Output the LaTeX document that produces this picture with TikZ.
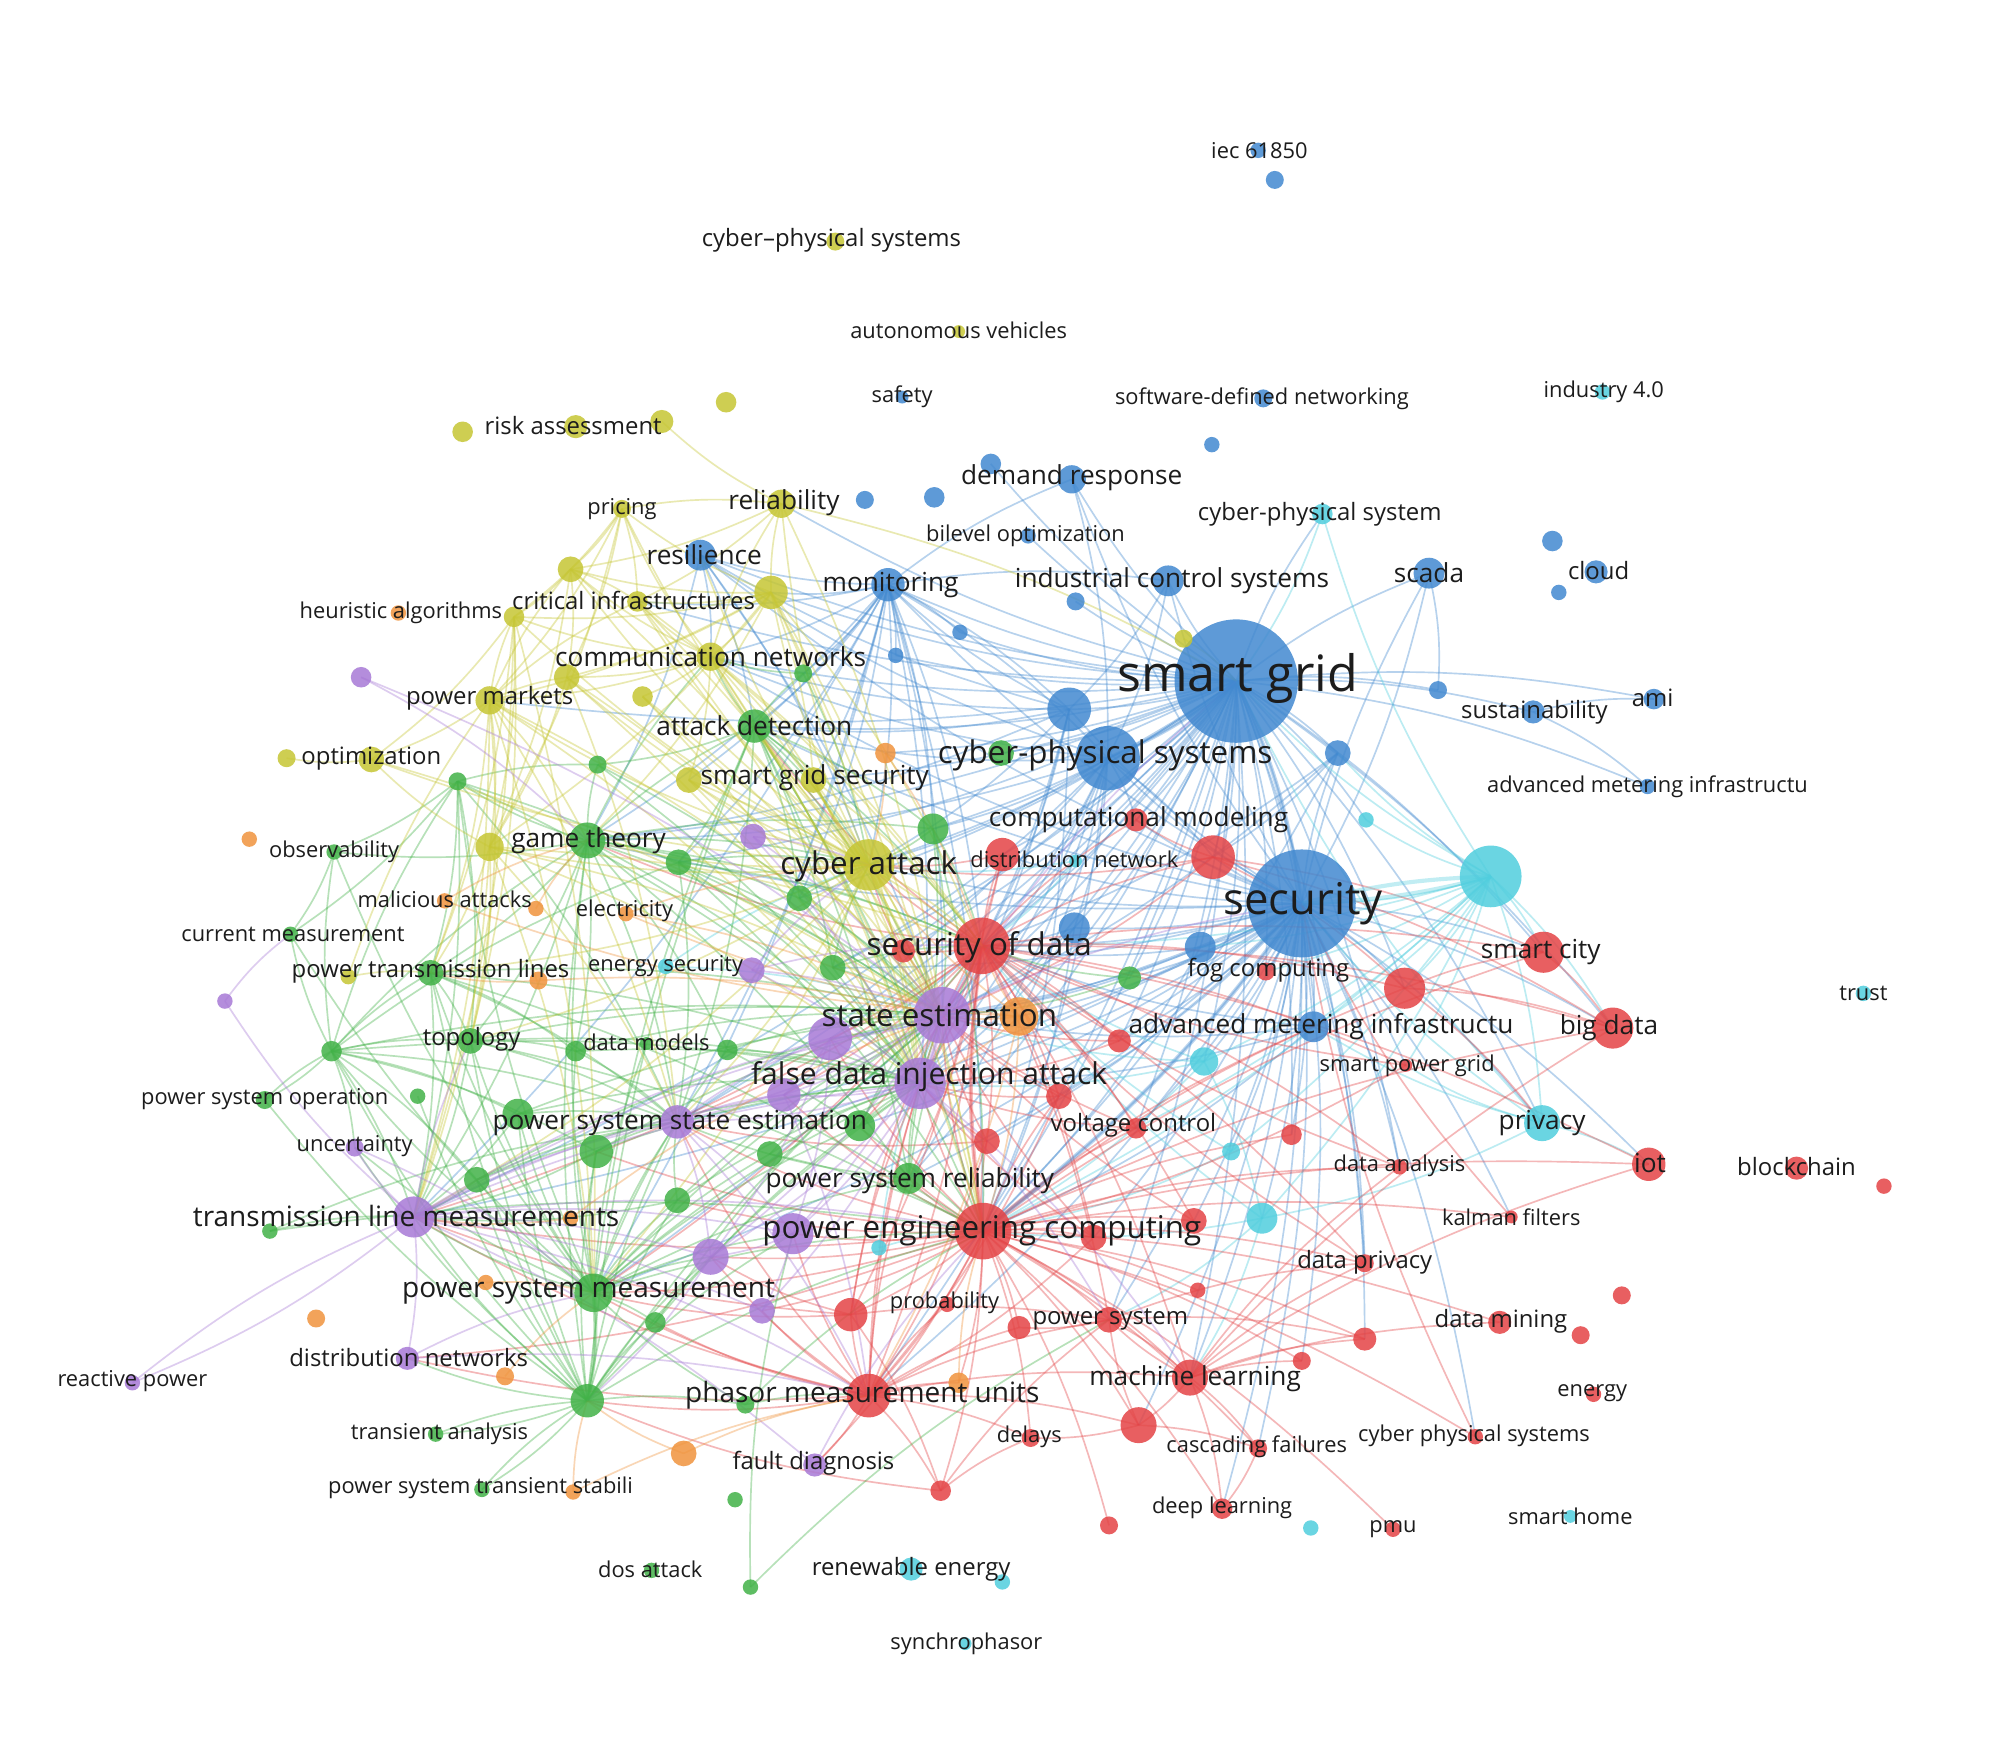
\documentclass[tikz,border=0pt]{standalone}
\usepackage{fontspec}
\setmainfont{Open Sans}
\usepackage{tikz}
\definecolor{vBlue}{RGB}{66,137,208}
\definecolor{vRed}{RGB}{228,68,70}
\definecolor{vGreen}{RGB}{66,178,72}
\definecolor{vYellow}{RGB}{198,198,52}
\definecolor{vPurple}{RGB}{168,122,214}
\definecolor{vCyan}{RGB}{80,206,222}
\definecolor{vOrange}{RGB}{240,148,62}
\definecolor{vText}{RGB}{28,28,28}
\pgfdeclarelayer{bglayer}
\pgfdeclarelayer{edgelayer}
\pgfdeclarelayer{nodelayer}
\pgfsetlayers{bglayer,edgelayer,nodelayer,main}
\tikzstyle{kw}=[circle, inner sep=0pt, draw=none, fill opacity=0.85]
\tikzstyle{lnk}=[line width=0.65pt, draw opacity=0.38]
\tikzstyle{lnkw}=[line width=1.6pt, draw opacity=0.35]
\tikzstyle{lbl}=[inner sep=0pt, text=vText]
\tikzstyle{lxl}=[lbl, font=\fontsize{19.5pt}{21pt}\selectfont]
\tikzstyle{lxk}=[lbl, font=\fontsize{17pt}{19pt}\selectfont]
\tikzstyle{ll}=[lbl, font=\fontsize{12.2pt}{14pt}\selectfont]
\tikzstyle{lk}=[lbl, font=\fontsize{10.9pt}{13pt}\selectfont]
\tikzstyle{lm}=[lbl, font=\fontsize{10.2pt}{12pt}\selectfont]
\tikzstyle{ls}=[lbl, font=\fontsize{9.3pt}{11pt}\selectfont]
\tikzstyle{lxs}=[lbl, font=\fontsize{8.5pt}{10pt}\selectfont]
\begin{document}
\begin{tikzpicture}[x=0.5pt, y=-0.5pt]
\begin{pgfonlayer}{bglayer}
\fill[white] (0,0) rectangle (1568,1364);
\end{pgfonlayer}
\useasboundingbox (0,0) rectangle (1568,1364);

\begin{pgfonlayer}{nodelayer}
\foreach \n/\x/\y/\r in {sg/962/530/48, sec/1013/703/42, iec/979/117/6, b992/992/140/7, saf/702/309/5, sdn/983/310/7,
    b943/943/346/6, dr/834/373/11, b771/771/361/8, b727/727/387/8, b673/673/389/7, bil/800/417/6, res/545/432/12,
    mon/691/455/13, ics/909/452/12, scada/1112/446/12, cloud/1242/445/9, b1208/1208/421/8, b1213/1213/461/6,
    b837/837/468/7, b747/747/492/6, b697/697/510/6, b832/832/552/17, cpsb/862/590/25, b1041/1041/586/10,
    b1119/1119/537/7, sus/1193/554/9, ami/1287/544/8, amir/1282/612/6, b836/836/722/12, b934/934/737/12,
    amic/1022/799/12}
    \node[kw, fill=vBlue, minimum size=\r pt] (\n) at (\x,\y) {};
\foreach \n/\x/\y/\r in {cbig/1160/682/24, cps1/1029/400/8, ind/1247/305/6, c1063/1063/638/6, trust/1450/773/6,
    priv/1200/874/14, c937/937/826/11, c958/958/896/7, c982/982/948/12, c684/684/971/6, es/518/752/6,
    ren/709/1221/9, c780/780/1231/6, syn/751/1279/5, c1020/1020/1189/6, sh/1222/1180/5, cdn/837/670/5}
    \node[kw, fill=vCyan, minimum size=\r pt] (\n) at (\x,\y) {};
\foreach \n/\x/\y/\r in {sod/764/736/22, cm/884/638/9, r780/780/665/13, r944/944/667/17, r703/703/740/9,
    sc/1201/741/16, r1093/1093/769/16, bd/1255/800/16, r871/871/810/9, r824/824/853/10, r768/768/888/10,
    spg/1094/829/5, vc/884/878/8, r1005/1005/883/8, da/1089/908/6, iot/1283/906/13, bc/1398/909/9,
    r1466/1466/923/6, kf/1176/947/5, pec/765/958/22, r850/851/963/10, r929/929/950/10, dpv/1062/983/7,
    r932/932/1004/6, dm/1167/1029/9, r1262/1262/1008/7, r1230/1230/1039/7, r1062/1062/1042/9,
    r1013/1013/1059/7, ps/863/1027/10, r793/793/1033/9, prob/737/1015/6, r661/662/1023/13, ml/926/1072/14,
    pmu/676/1086/17, r886/886/1109/14, del/802/1119/7, cf/979/1127/7, cpss/1148/1118/6, en/1240/1085/6,
    r732/732/1160/8, r863/863/1187/7, dl/951/1174/8, pmus/1084/1190/6, fog/985/756/7}
    \node[kw, fill=vRed, minimum size=\r pt] (\n) at (\x,\y) {};
\foreach \n/\x/\y/\r in {ad/587/565/13, gt/457/654/14, g625/625/524/7, g465/465/595/7, g356/356/608/7,
    g528/528/671/10, g622/622/699/10, g726/726/645/12, g781/779/586/10, g648/648/753/10, g879/879/761/9,
    obs/260/663/6, cme/226/727/6, ptl/335/757/10, topo/366/810/10, dmod/503/812/5, g448/448/818/8,
    g565/566/817/8, g258/258/818/8, pso/206/856/7, g325/325/853/6, g402/403/867/12, g463/464/896/13,
    g370/371/918/10, g527/527/934/10, g599/599/898/10, g669/669/876/12, psr/707/917/12, g210/210/958/6,
    psm/462/1006/15, g509/510/1029/8, g455/457/1090/13, ta/339/1116/6, psts/375/1159/6, g579/580/1093/7,
    g571/572/1167/6, dos/507/1222/6, g584/584/1235/6}
    \node[kw, fill=vGreen, minimum size=\r pt] (\n) at (\x,\y) {};
\foreach \n/\x/\y/\r in {cps2/650/188/7, av/746/258/5, ra/448/332/9, y515/515/328/9, y565/565/313/8,
    y360/360/336/8, pri/484/396/7, rel/608/392/11, y444/444/443/10, y600/600/461/13, ci/496/468/8,
    y400/400/480/8, cn/553/511/11, y441/441/527/10, y500/500/542/8, pm/381/545/11, opt/289/591/10,
    y223/223/590/7, y536/536/607/10, sgs/633/607/10, ca/676/673/20, y381/381/659/11, y920/921/497/7,
    y271/271/760/6}
    \node[kw, fill=vYellow, minimum size=\r pt] (\n) at (\x,\y) {};
\foreach \n/\x/\y/\r in {p281/281/527/8, p586/586/651/10, se/733/790/22, p646/646/808/17, fdia/716/843/20,
    p610/610/852/13, psse/527/873/13, p584/585/755/10, p174/175/779/6, unc/276/893/7, tlm/322/947/16,
    p553/553/978/14, p617/617/960/16, p592/593/1020/10, dnw/317/1057/9, rp/103/1076/6, fd/634/1140/9}
    \node[kw, fill=vPurple, minimum size=\r pt] (\n) at (\x,\y) {};
\foreach \n/\x/\y/\r in {ha/310/477/6, o688/689/586/8, o193/194/653/6, ma/346/701/6, o416/417/707/6,
    ele/487/711/6, o791/793/791/15, o419/419/763/7, o444/444/948/6, o379/378/998/6, o246/246/1026/7,
    o393/393/1071/7, o746/746/1076/8, o532/532/1131/10, o446/446/1161/6}
    \node[kw, fill=vOrange, minimum size=\r pt] (\n) at (\x,\y) {};
\end{pgfonlayer}

\begin{pgfonlayer}{edgelayer}
\foreach \a/\l in {
    sg/{sec,mon,res,ics,dr,scada,sus,ami,amir,b1041,b1119,cpsb,b832,b837,b747,b697,bil,b771,ca,sod,se,fdia,pec,cm,r944,b836,b934,amic,fog,sc,r1093,bd,priv,cn,ad,gt,sgs,rel,g726,g781,o688,cps1,c1063,vc,r871,c937,ml,ps,pmu,psm,tlm,psse,psr,dpv,r1005,da,ci,y600,pm,g528,g622,o791,p646,p610,r780,r703,g648,g879},
    sec/{mon,res,ics,cpsb,b832,b1041,scada,amic,fog,b934,b836,sc,r1093,bd,priv,iot,c937,c958,c982,spg,da,dpv,r1005,vc,r929,r850,pec,sod,se,fdia,ca,cm,r944,ml,ps,cf,dl,r1062,r1013,kf,gt,ad,cn,psse,psr,g879,pmu,tlm,psm,r886,cpss,r871,r824,r768,o791,p646,g669,g648,r780,dr},
    mon/{res,cn,ad,ca,sod,se,fdia,pec,gt,y600,ci,sgs,g726,cpsb,b832,g528,g622,psse,ics,dr,b697,b747,g625,y536,psm,tlm},
    cpsb/{ca,sod,se,fdia,pec,ad,gt,cn,g726,cm,r944,b836,psr,psse,g648,o791,res},
    b832/{ca,sod,se,fdia,pec,ad,cn,mon,gt,res},
    b1041/{sod,pec,se,r944}, b836/{se,fdia,pec,sod}, b934/{se,pec,sod}, amic/{sod,pec,se,fdia},
    scada/{b1119,sec}, res/{cn,ad,ca,gt,se}, ics/{cpsb,b832}, dr/{cpsb}, sus/{ami,amir}}
    {\foreach \b in \l {\draw[lnk, draw=vBlue] (\a.center) to[bend left=8] (\b.center);}}
\foreach \a/\l in {
    cbig/{sec,sg,priv,amic,c937,c982,r1093,sc,c1063,cps1,bd,sod,pec,c958,spg,b1041,vc,fog,b934},
    priv/{iot,sec,amic,c982,spg,sg}, c937/{pec,se,sod,c982,fdia}, c982/{pec,ps,ml,sod},
    c958/{sod,pec}, cps1/{sg}, c684/{pec,se}, es/{se,ca}, cdn/{sod,ca}}
    {\foreach \b in \l {\draw[lnk, draw=vCyan] (\a.center) to[bend left=8] (\b.center);}}
\foreach \a/\l in {
    pec/{sod,se,fdia,pmu,r661,ps,ml,r886,del,r732,r793,prob,r850,r929,r932,vc,r824,r768,psm,tlm,dpv,r1062,r1013,cf,dl,r863,da,kf,sc,bd,iot,r1005,r1093,amic,p617,p553,psr,g669,psse,dm,cpss,pmus,o746,fd,p592,p646,p610,g463,g527,dnw},
    sod/{se,fdia,ca,cm,r944,r780,r703,r871,r824,r768,pmu,r661,ps,ml,vc,sc,bd,r1093,gt,ad,psse,psr,tlm,psm,dpv,da,spg,iot,p646,p610,g669,r850,r929},
    pmu/{r661,ps,ml,psm,tlm,se,fdia,psse,p617,p553,r732,del,r886,g455,psr,r793,prob,fd,o746,p592,g509,dnw},
    r661/{psm,tlm,p553,ps,r732,se,fdia}, ml/{r886,dl,cf,dm,r1062,da,dpv,bd,iot,ps,r1013},
    r944/{sc,bd,ca,se,r1093,cm}, r1093/{sc,bd,priv}, sc/{bd}, kf/{sec}, cpss/{sec}, cf/{dl},
    r886/{cf,del,ps}, r732/{ps,del,g455}, ps/{r793,ml,dpv,r1062}, vc/{se,fdia}, r824/{se,fdia,pmu},
    r768/{se,fdia,psse,pmu}, r871/{se,fdia}, r780/{ca,se,fdia}, r703/{ca,se}, r850/{se,fdia,pmu},
    r929/{se}, dpv/{sod}, da/{sod}, spg/{sod,pec}}
    {\foreach \b in \l {\draw[lnk, draw=vRed] (\a.center) to[bend left=8] (\b.center);}}
\foreach \a/\l in {
    psm/{g455,tlm,psse,se,fdia,pec,topo,ptl,g402,g463,g370,g527,g599,g669,psr,p553,p617,gt,ad,g258,unc,g509,dmod,g565,g448,cme,obs,g356},
    g455/{tlm,psse,pec,fdia,se,g463,g402,g370,g527,p553,p617,ta,psts,g579,g509,topo,ptl,g258,pso,g325,gt,ad,dnw,unc},
    g258/{tlm,ptl,topo,gt,g402,g463,psse,fdia,se,obs,cme,g356,g528,pso,g370,unc},
    gt/{ad,g528,g622,se,fdia,sod,ca,psse,topo,ptl,g356,g465,obs,cn,psr,g726,g448,g565,tlm},
    ad/{ca,se,fdia,sod,psse,g528,g622,g726,cn,g625,sgs,psr,pec,g465,g648},
    g726/{ca,sod,se,fdia,pec}, g528/{ca,se,fdia,psse,sod,pec}, g356/{obs,cme,ptl,topo,psse,tlm,se,fdia,g465},
    ptl/{tlm,topo,psse,se,fdia,pec,g448}, topo/{psse,se,fdia,tlm,pec,g448}, psr/{se,fdia,sod,psse},
    g669/{se,fdia,sod}, g463/{psse,se,fdia,tlm}, g402/{psse,se,fdia,tlm}, g370/{psse,se,fdia,tlm},
    g527/{psse,se,fdia,tlm}, g599/{se,fdia,pec}, g448/{se,fdia,psse}, g565/{se,fdia,pec},
    g210/{tlm,pec,psse}, g584/{p617,ps}, g579/{pmu,psm,pec}, g625/{cn,ca}, g879/{se,sod},
    g648/{se,sod,ca,pec}, g622/{ca,se,fdia}, g465/{se,fdia}, g509/{se,fdia}, psts/{g455}, ta/{g455},
    obs/{cme}, pso/{g258}}
    {\foreach \b in \l {\draw[lnk, draw=vGreen] (\a.center) to[bend left=8] (\b.center);}}
\foreach \a/\l in {
    ca/{sod,se,fdia,pec,cn,y600,rel,pri,ci,pm,y441,y444,y400,y500,opt,sgs,y536,y381,gt,ptl,topo,psse,psm,tlm,res},
    y600/{cn,rel,pri,ci,y444,pm,y441,sgs,se,fdia,sod,pec,gt,y381,y400},
    cn/{pri,rel,ci,y444,y400,pm,y441,y500,sgs,y536,se,fdia,sod,pec},
    pri/{y444,y400,pm,ci,y441,y381,rel}, rel/{y515,ci,y444,se,sg},
    pm/{y444,y441,y400,opt,y381,gt,se,fdia,psse,topo,ptl,ci,psm,tlm},
    y444/{y400,ci,y441,y381,se}, y400/{y381,ptl,topo,opt,psm,tlm},
    y381/{opt,ptl,topo,psse,se,fdia,psm,tlm,sod}, opt/{y223,se}, y441/{y381,se,fdia,psse},
    sgs/{se,fdia,sod,pec}, y536/{se,fdia,sod}, y920/{sg}, y271/{ptl,pm}, y500/{se,fdia}, ci/{se,fdia,sod}}
    {\foreach \b in \l {\draw[lnk, draw=vYellow] (\a.center) to[bend left=8] (\b.center);}}
\foreach \a/\l in {
    tlm/{p174,unc,dnw,rp,psse,se,fdia,pec,p553,p617,p592,topo,pmu,fd,p610,p646},
    se/{fdia,p646,p610,psse,p617,p553,sec,sg}, fdia/{p646,p610,psse,p617,p553,p592,ps,ml},
    psse/{p646,p610,p617,p553,pmu}, p646/{p610,p617,p553}, p617/{p553,p592}, p553/{g455},
    p281/{gt,se}, p174/{cme}, unc/{psm}, dnw/{psm,pmu}, rp/{tlm}, fd/{pec}, p584/{se,fdia,sod,ca},
    p586/{se,fdia,ca}, p610/{pmu}}
    {\foreach \b in \l {\draw[lnk, draw=vPurple] (\a.center) to[bend left=8] (\b.center);}}
\foreach \a/\l in {
    o791/{se,sod,pec,fdia,ca,ele,ma,pmu}, o532/{pmu,g455}, o446/{g455,pmu}, o746/{pec}, ele/{ca,se},
    ma/{gt}, o419/{ptl,se}, o416/{gt}, o688/{ca,sod}, o444/{tlm,se}, o379/{psm}, o393/{psm}}
    {\foreach \b in \l {\draw[lnk, draw=vOrange] (\a.center) to[bend left=8] (\b.center);}}
\draw[lnkw, draw=vBlue] (sg.center) to[bend left=8] (sec.center);
\draw[lnkw, draw=vBlue] (sg.center) to[bend left=8] (cpsb.center);
\draw[lnkw, draw=vBlue] (sec.center) to[bend left=8] (pec.center);
\draw[lnkw, draw=vCyan] (cbig.center) to[bend left=6] (sec.center);
\draw[lnkw, draw=vCyan] (cbig.center) to[bend right=6] (sec.center);
\draw[lnkw, draw=vRed] (pec.center) to[bend left=8] (sod.center);
\draw[lnkw, draw=vPurple] (se.center) to[bend left=8] (fdia.center);
\draw[lnkw, draw=vGreen] (psm.center) to[bend left=8] (g455.center);
\end{pgfonlayer}

\node[lxl] (sg-t) at (963,528) {smart grid};
\node[lxk] (sec-t) at (1014,703) {security};
\foreach \n/\x/\y/\t in {cpsb/860/588/cyber-physical systems, ca/676/674/cyber attack, sod/762/737/security of data,
    se/731/790/state estimation, pec/764/958/power engineering computing}
    \node[ll] (\n-t) at (\x,\y) {\t};
\node[lbl, font=\fontsize{11.7pt}{13pt}\selectfont] (fdia-t) at (723,838) {false data injection attack};
\foreach \n/\x/\y/\t in {tlm/316/946/transmission line measurements, psm/458/1005/power system measurement,
    pmu/671/1086/phasor measurement units}
    \node[lk] (\n-t) at (\x,\y) {\t};
\foreach \n/\x/\y/\t in {dr/834/372/demand response, res/548/432/resilience, mon/693/455/monitoring,
    ics/912/452/industrial control systems, scada/1112/446/scada, rel/610/391/reliability,
    cn/553/511/communication networks, ad/587/565/attack detection, gt/458/654/game theory,
    cm/886/638/computational modeling, sc/1199/741/smart city, bd/1252/800/big data, priv/1200/874/privacy,
    psse/529/874/power system state estimation, psr/708/919/power system reliability,
    sgs/634/605/smart grid security, amic/1028/799/advanced metering infrastructu, ml/930/1073/machine learning,
    iot/1284/905/iot}
    \node[lm] (\n-t) at (\x,\y) {\t};
\foreach \n/\x/\y/\t in {ra/446/331/risk assessment, pm/381/543/power markets, opt/289/590/optimization,
    ptl/335/756/power transmission lines, topo/367/809/topology, dnw/318/1056/distribution networks,
    fd/633/1139/fault diagnosis, ren/709/1221/renewable energy, vc/882/876/voltage control, ps/864/1027/power system,
    dm/1168/1028/data mining, bc/1398/908/blockchain, cps1/1027/400/cyber-physical system,
    sus/1194/554/sustainability, cloud/1244/444/cloud, ami/1286/543/ami, ci/493/467/critical infrastructures,
    dpv/1062/982/data privacy, fog/987/755/fog computing, cps2/647/187/cyber--physical systems}
    \node[ls] (\n-t) at (\x,\y) {\t};
\foreach \n/\x/\y/\t in {iec/980/117/iec 61850, saf/702/309/safety, sdn/982/310/software-defined networking,
    av/746/257/autonomous vehicles, ind/1248/305/industry 4.0, bil/798/417/bilevel optimization, pri/484/396/pricing,
    ha/312/477/heuristic algorithms, obs/260/663/observability, cme/228/727/current measurement,
    ma/346/700/malicious attacks, ele/486/709/electricity, es/518/752/energy security, dmod/503/811/data models,
    pso/206/855/power system operation, unc/276/892/uncertainty, spg/1095/829/smart power grid,
    da/1089/907/data analysis, kf/1176/947/kalman filters, prob/735/1014/probability, del/801/1118/delays,
    cf/978/1126/cascading failures, cpss/1147/1117/cyber physical systems, en/1239/1084/energy,
    dl/951/1173/deep learning, pmus/1084/1190/pmu, sh/1222/1180/smart home, trust/1450/773/trust,
    syn/752/1279/synchrophasor, dos/506/1221/dos attack, ta/342/1116/transient analysis,
    psts/374/1158/power system transient stabili, rp/103/1075/reactive power, cdn/836/669/distribution network,
    amir/1282/612/advanced metering infrastructu}
    \node[lxs] (\n-t) at (\x,\y) {\t};
\end{tikzpicture}
\end{document}
